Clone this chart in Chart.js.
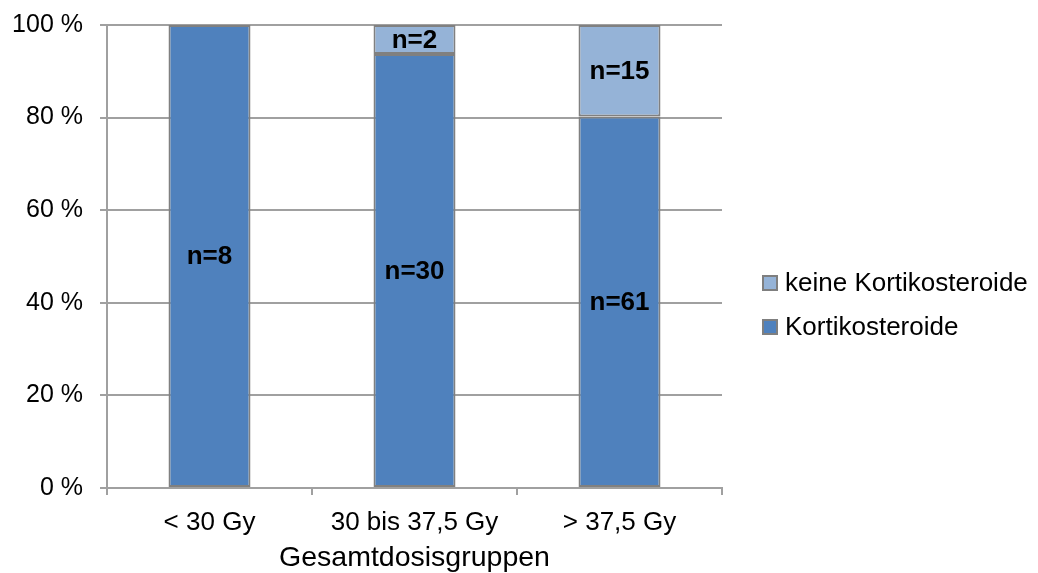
<!DOCTYPE html>
<html>
<head>
<meta charset="utf-8">
<script src="https://cdn.jsdelivr.net/npm/chart.js@4/dist/chart.umd.min.js"></script>
<style>
  html, body { margin: 0; padding: 0; background: #ffffff; }
  #wrap { width: 1038px; height: 573px; position: relative; }
</style>
</head>
<body>
<div id="wrap"><canvas id="c" width="1038" height="573"></canvas></div>
<script>
// Dose groups and patient counts per group
const categories = ['< 30 Gy', '30 bis 37,5 Gy', '> 37,5 Gy'];
const withSteroids = [8, 30, 61];     // Kortikosteroide
const withoutSteroids = [0, 2, 15];   // keine Kortikosteroide
const yTicks = [0, 20, 40, 60, 80, 100];

const totals = categories.map((_, i) => withSteroids[i] + withoutSteroids[i]);
const pct = (arr) => arr.map((v, i) => v / totals[i] * 100);

const FONT = '"Liberation Sans", Arial, sans-serif';
const GRID = '#a0a0a0';

// Count labels centred in each segment
const countLabels = {
  id: 'countLabels',
  afterDatasetsDraw(chart) {
    const ctx = chart.ctx;
    ctx.save();
    ctx.font = 'bold 26px ' + FONT;
    ctx.fillStyle = '#000';
    ctx.textAlign = 'center';
    ctx.textBaseline = 'middle';
    chart.data.datasets.forEach((ds, di) => {
      const meta = chart.getDatasetMeta(di);
      meta.data.forEach((el, i) => {
        const n = ds.counts[i];
        if (!n) return;
        const p = el.getCenterPoint();
        ctx.fillText('n=' + n, p.x, p.y + 1);
      });
    });
    ctx.restore();
  }
};

// Legend at the right, listed top segment first
const sideLegend = {
  id: 'sideLegend',
  afterDraw(chart) {
    const ctx = chart.ctx;
    const items = chart.data.datasets.slice().reverse();
    ctx.save();
    ctx.font = '26px ' + FONT;
    ctx.textBaseline = 'middle';
    ctx.textAlign = 'left';
    items.forEach((ds, k) => {
      const cy = 283 + k * 44;
      ctx.fillStyle = ds.backgroundColor;
      ctx.fillRect(763, cy - 7, 14, 14);
      ctx.strokeStyle = '#7f7f7f';
      ctx.lineWidth = 2;
      ctx.strokeRect(763, cy - 7, 14, 14);
      ctx.fillStyle = '#000';
      ctx.fillText(ds.label, 785, cy + 1);
    });
    ctx.restore();
  }
};

new Chart(document.getElementById('c'), {
  type: 'bar',
  data: {
    labels: categories,
    datasets: [
      {
        label: 'Kortikosteroide',
        data: pct(withSteroids),
        counts: withSteroids,
        backgroundColor: '#4f81bd',
        borderColor: '#808080',
        borderWidth: 2,
        borderSkipped: false,
        barPercentage: 0.4,
        categoryPercentage: 1.0
      },
      {
        label: 'keine Kortikosteroide',
        data: pct(withoutSteroids),
        counts: withoutSteroids,
        backgroundColor: '#95b3d7',
        borderColor: '#808080',
        borderWidth: 2,
        borderSkipped: false,
        barPercentage: 0.4,
        categoryPercentage: 1.0
      }
    ]
  },
  options: {
    responsive: false,
    animation: false,
    layout: { padding: { top: 25, right: 316, left: 0, bottom: 0 } },
    plugins: {
      legend: { display: false },
      tooltip: { enabled: false }
    },
    scales: {
      x: {
        stacked: true,
        offset: true,
        grid: { display: true, drawOnChartArea: false, drawTicks: true, tickLength: 7, color: GRID, lineWidth: 2, offset: true },
        border: { display: true, color: GRID, width: 2 },
        ticks: { color: '#000', font: { family: FONT, size: 26 }, padding: 12, maxRotation: 0 },
        title: { display: true, text: 'Gesamtdosisgruppen', color: '#000', font: { family: FONT, size: 28.5, lineHeight: 1.05 }, padding: { top: 0, bottom: 0 } },
        afterFit(scale) { scale.height = 85; }
      },
      y: {
        stacked: true,
        min: 0,
        max: 100,
        afterBuildTicks(scale) { scale.ticks = yTicks.map(v => ({ value: v })); },
        grid: { color: GRID, lineWidth: 2, tickLength: 7, drawTicks: true },
        border: { display: true, color: GRID, width: 2 },
        ticks: { color: '#000', font: { family: FONT, size: 25 }, padding: 17, callback: v => v + ' %' },
        afterFit(scale) {
          scale.width = 107;
          scale.paddingTop = 0;
          scale.paddingBottom = 0;
        }
      }
    }
  },
  plugins: [countLabels, sideLegend]
});
</script>
</body>
</html>
